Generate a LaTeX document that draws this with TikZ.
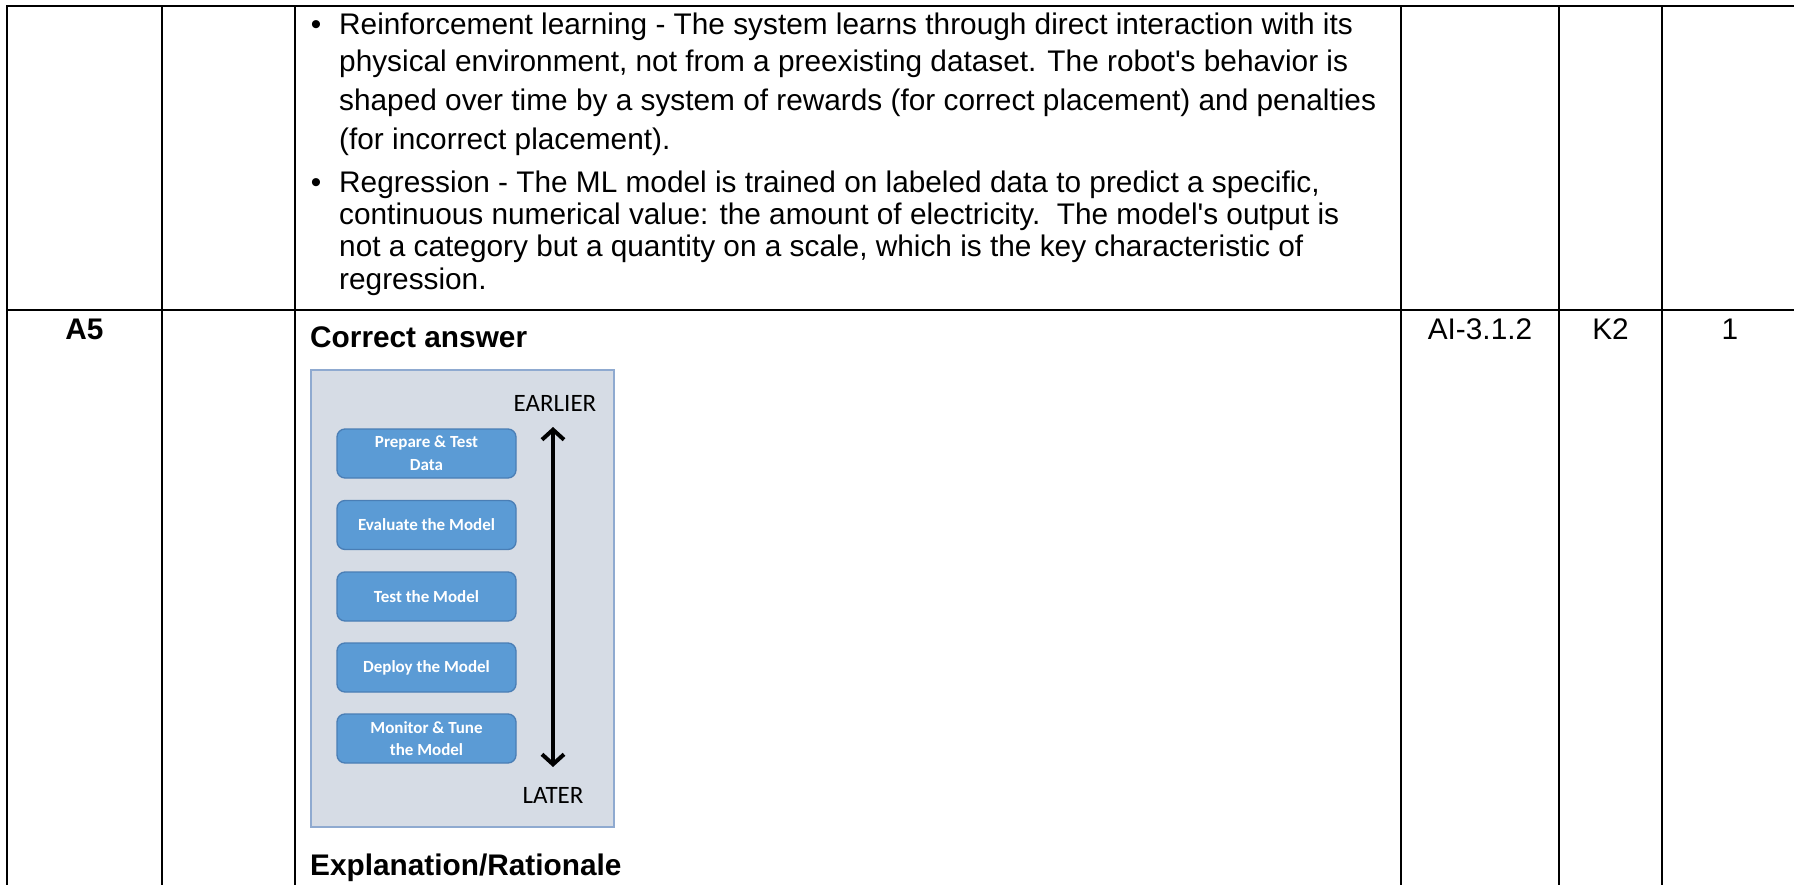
\documentclass[tikz,border=0pt]{standalone}
\usepackage{fontspec}
\setmainfont{Liberation Sans}[Ligatures=TeXOff]
\newfontfamily\calfont{Carlito}
\usetikzlibrary{arrows.meta}
\definecolor{panelfill}{HTML}{D6DCE5}
\definecolor{paneldraw}{HTML}{8FAAD0}
\definecolor{boxfill}{HTML}{5B9BD5}
\definecolor{boxdraw}{HTML}{4A7EB5}
\begin{document}
\begin{tikzpicture}[x=1pt,y=-1pt,
  grid/.style={line width=2.6pt, black, line cap=rect},
  body/.style={anchor=base west, inner sep=0pt, font=\fontsize{29.8}{34}\selectfont},
  bul/.style={anchor=base, inner sep=0pt, font=\fontsize{29.8}{34}\selectfont},
  cellc/.style={anchor=base, inner sep=0pt, font=\fontsize{29.8}{34}\selectfont},
  head/.style={anchor=base west, inner sep=0pt, font=\bfseries\fontsize{29.8}{34}\selectfont},
  stage/.style={draw=boxdraw, line width=1.3pt, fill=boxfill, rounded corners=8pt,
    minimum width=179pt, minimum height=49pt, inner sep=0pt, align=center, text=white,
    font=\calfont\bfseries\fontsize{17}{22.7}\selectfont},
  timelbl/.style={inner sep=0pt, font=\calfont\fontsize{25}{30}\selectfont},
  twoway/.style={line width=4pt, {Straight Barb[length=10pt,width=22pt]}-{Straight Barb[length=10pt,width=22pt]}}
]
\useasboundingbox (0,0) rectangle (1794,885);
% table grid
\draw[grid] (7,6) -- (1794,6);
\draw[grid] (7,310) -- (1794,310);
\draw[grid] (7,6) -- (7,885);
\draw[grid] (162,6) -- (162,885);
\draw[grid] (295,6) -- (295,885);
\draw[grid] (1401,6) -- (1401,885);
\draw[grid] (1559,6) -- (1559,885);
\draw[grid] (1662,6) -- (1662,885);
% first row text
\node[bul] (b1) at (316,35) {•};
\node[body] (l1) at (339,35) {Reinforcement learning - The system learns through direct interaction with its};
\node[body] (l2) at (339,72) {physical environment, not from a preexisting dataset. The robot's behavior is};
\node[body] (l3) at (339,111) {shaped over time by a system of rewards (for correct placement) and penalties};
\node[body] (l4) at (339,150) {(for incorrect placement).};
\node[bul] (b2) at (316,193) {•};
\node[body] (l5) at (339,193) {Regression - The ML model is trained on labeled data to predict a specific,};
\node[body] (l6) at (339,225) {continuous numerical value: the amount of electricity.\ \ The model's output is};
\node[body] (l7) at (339,257) {not a category but a quantity on a scale, which is the key characteristic of};
\node[body] (l8) at (339,290) {regression.};
% second row
\node[cellc, font=\bfseries\fontsize{29.8}{34}\selectfont] (a5) at (84.5,340) {A5};
\node[head] (ca) at (310,348) {Correct answer};
\node[cellc] (lo) at (1480,340) {AI-3.1.2};
\node[cellc] (kl) at (1610.5,340) {K2};
\node[cellc] (pt) at (1730,340) {1};
\node[head] (er) at (310,875) {Explanation/Rationale};
% panel
\node[draw=paneldraw, line width=2pt, fill=panelfill, minimum width=303pt, minimum height=457pt, inner sep=0pt, anchor=north west] (panel) at (310,369) {};
\node[stage] (s1) at (426.5,453.5) {Prepare \& Test\\Data};
\node[stage] (s2) at (426.5,525) {Evaluate the Model};
\node[stage] (s3) at (426.5,596.5) {Test the Model};
\node[stage] (s4) at (426.5,667.5) {Deploy the Model};
\node[stage] (s5) at (426.5,738.5) {Monitor \& Tune\\the Model};
\node[timelbl] (early) at (555,403) {EARLIER};
\node[timelbl] (late) at (553,795) {LATER};
\coordinate (atop) at (553,427);
\coordinate (abot) at (553,767);
\draw[twoway] (atop) -- (abot);
\end{tikzpicture}
\end{document}
